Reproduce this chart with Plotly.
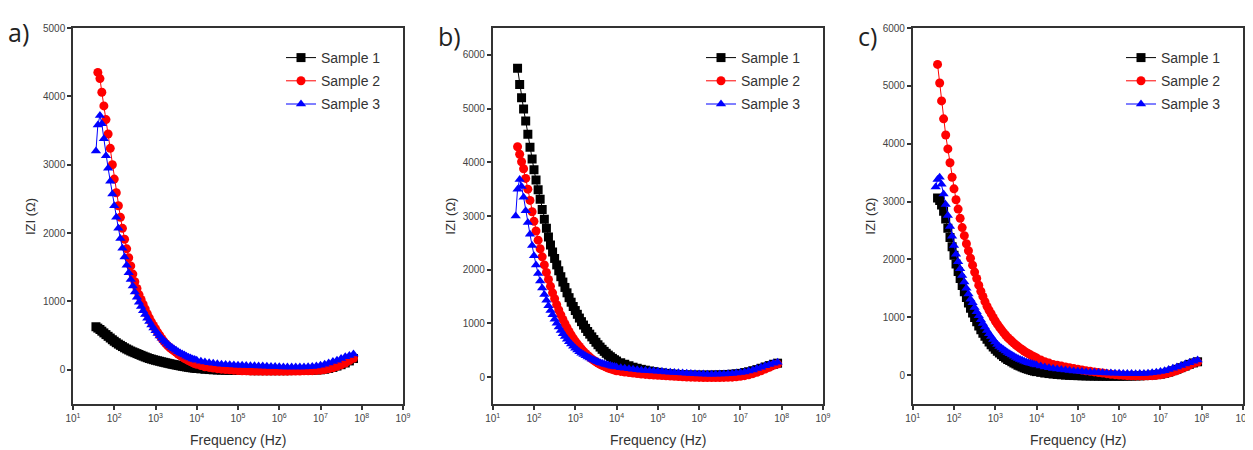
import plotly.graph_objects as go

# Measurement frequencies (Hz)
freq = [36, 40, 45, 50, 56, 63, 71, 80, 90, 100,
        112, 126, 141, 158, 178, 200, 224, 251, 282, 316,
        355, 398, 447, 501, 562, 631, 708, 794, 891, 1000,
        1122, 1259, 1413, 1585, 1778, 1995, 2239, 2512, 2818, 3162,
        3548, 3981, 4467, 5012, 5623, 6310, 7079, 7943, 8913, 10000,
        1.26e4, 1.58e4, 2.0e4, 2.51e4, 3.16e4, 3.98e4, 5.01e4, 6.31e4, 7.94e4, 1e5,
        1.26e5, 1.58e5, 2.0e5, 2.51e5, 3.16e5, 3.98e5, 5.01e5, 6.31e5, 7.94e5, 1e6,
        1.26e6, 1.58e6, 2.0e6, 2.51e6, 3.16e6, 3.98e6, 5.01e6, 6.31e6, 7.94e6, 1e7,
        1.26e7, 1.58e7, 2.0e7, 2.51e7, 3.16e7, 3.98e7, 5.01e7, 6.31e7, 7.94e7]

# Panel a) |Z| (ohm)
a_s1 = [630, 610, 590, 565, 540, 515, 490, 465, 440, 418,
        397, 376, 358, 340, 322, 305, 290, 275, 262, 250,
        237, 225, 212, 200, 188, 177, 166, 157, 148, 140,
        132, 125, 117, 110, 103, 96, 89, 82, 76, 70,
        64, 58, 52, 47, 42, 37, 32, 28, 24, 20,
        14, 8, 4, 0, -3, -5, -7, -8, -9, -10,
        -10, -10, -11, -12, -12, -12, -12, -12, -12, -12,
        -12, -12, -11, -10, -9, -8, -7, -5, -3, 0,
        8, 20, 35, 55, 75, 100, 130, 165, None]
a_s2 = [None, 4350, 4260, 4060, 3860, 3660, 3450, 3240, 3000, 2790,
        2590, 2400, 2230, 2070, 1910, 1770, 1640, 1520, 1400, 1290,
        1190, 1100, 1030, 960, 890, 820, 760, 700, 650, 600,
        550, 505, 460, 420, 383, 350, 323, 300, 277, 255,
        232, 210, 190, 170, 152, 135, 120, 105, 92, 80,
        62, 45, 35, 25, 17, 10, 5, 0, -5, -10,
        -13, -15, -17, -18, -19, -20, -20, -20, -20, -20,
        -20, -20, -19, -18, -17, -15, -14, -12, -9, -5,
        3, 15, 30, 50, 72, 100, 135, 170, None]
a_s3 = [3200, 3580, 3720, 3600, 3380, 3130, 2950, 2760, 2570, 2400,
        2230, 2070, 1920, 1780, 1650, 1530, 1420, 1320, 1225, 1140,
        1060, 990, 925, 865, 810, 755, 705, 655, 610, 570,
        532, 495, 462, 430, 402, 375, 350, 325, 305, 285,
        265, 245, 230, 215, 200, 185, 172, 160, 150, 140,
        127, 115, 105, 95, 88, 82, 78, 75, 71, 68,
        65, 62, 60, 58, 56, 55, 52, 50, 47, 45,
        43, 42, 41, 40, 41, 42, 45, 50, 57, 65,
        80, 100, 120, 140, 165, 190, 210, 232, None]

# Panel b)
b_s1 = [None, 5750, 5450, 5200, 4990, 4770, 4520, 4280, 4060, 3860,
        3670, 3490, 3310, 3120, 2940, 2770, 2610, 2460, 2330, 2210,
        2090, 1980, 1870, 1770, 1670, 1570, 1480, 1395, 1315, 1240,
        1170, 1100, 1033, 970, 908, 850, 800, 750, 700, 650,
        603, 560, 518, 480, 444, 410, 380, 350, 324, 300,
        268, 240, 212, 185, 165, 145, 130, 115, 102, 90,
        80, 70, 62, 55, 50, 45, 42, 40, 39, 38,
        38, 38, 39, 40, 42, 45, 50, 55, 62, 70,
        85, 100, 120, 140, 165, 190, 215, 240, 260]
b_s2 = [None, 4290, 4150, 4010, 3880, 3700, 3500, 3290, 3080, 2900,
        2720, 2550, 2390, 2240, 2090, 1950, 1820, 1690, 1570, 1460,
        1350, 1250, 1160, 1075, 995, 920, 850, 785, 725, 670,
        618, 570, 523, 480, 442, 405, 372, 340, 312, 285,
        262, 240, 222, 205, 187, 170, 157, 145, 132, 120,
        107, 95, 85, 75, 66, 58, 51, 45, 40, 35,
        30, 25, 20, 15, 10, 5, 2, 0, -3, -5,
        -7, -8, -8, -8, -7, -5, -3, 0, 6, 15,
        28, 45, 65, 90, 118, 150, 185, 220, 245]
b_s3 = [3000, 3500, 3680, 3550, 3350, 3100, 2880, 2660, 2450, 2260,
        2090, 1930, 1790, 1660, 1540, 1430, 1330, 1240, 1160, 1080,
        1005, 935, 870, 810, 755, 705, 660, 615, 575, 540,
        507, 475, 447, 420, 397, 375, 355, 335, 317, 300,
        285, 270, 257, 245, 235, 225, 215, 205, 197, 190,
        177, 165, 155, 145, 137, 130, 124, 118, 113, 108,
        103, 98, 93, 88, 83, 78, 73, 68, 64, 60,
        57, 55, 55, 55, 57, 60, 65, 70, 77, 85,
        98, 115, 135, 160, 185, 210, 235, 260, 275]

# Panel c)
c_s1 = [None, 3060, 3020, 2940, 2830, 2700, 2540, 2380, 2220, 2070,
        1920, 1790, 1670, 1550, 1440, 1340, 1245, 1155, 1075, 995,
        920, 850, 785, 725, 670, 620, 570, 525, 485, 445,
        412, 380, 350, 320, 295, 270, 250, 230, 210, 190,
        172, 155, 140, 125, 112, 100, 89, 78, 69, 60,
        47, 35, 26, 18, 11, 5, 0, -5, -8, -10,
        -13, -15, -17, -18, -19, -20, -20, -20, -20, -20,
        -19, -18, -17, -15, -13, -10, -5, 0, 7, 15,
        30, 50, 75, 100, 128, 155, 185, 210, 230]
c_s2 = [None, 5370, 5050, 4740, 4430, 4150, 3910, 3670, 3420, 3220,
        3030, 2870, 2710, 2550, 2410, 2270, 2150, 2020, 1900, 1780,
        1670, 1555, 1450, 1360, 1270, 1190, 1120, 1060, 995, 935,
        880, 830, 782, 735, 692, 650, 617, 585, 552, 520,
        492, 465, 440, 415, 392, 370, 350, 330, 312, 295,
        260, 230, 207, 185, 170, 155, 140, 125, 112, 100,
        87, 75, 65, 55, 45, 35, 25, 15, 7, 0,
        -5, -10, -13, -15, -15, -15, -13, -10, -3, 5,
        18, 35, 55, 80, 110, 140, 170, 205, 225]
c_s3 = [3250, 3380, 3420, 3300, 3130, 2950, 2760, 2570, 2400, 2240,
        2090, 1960, 1840, 1720, 1610, 1500, 1400, 1310, 1250, 1170,
        1095, 1025, 955, 890, 830, 770, 715, 665, 615, 570,
        530, 495, 467, 440, 415, 390, 367, 345, 325, 305,
        287, 270, 255, 240, 227, 215, 205, 195, 185, 175,
        157, 140, 127, 115, 105, 95, 86, 78, 71, 65,
        60, 55, 51, 47, 43, 40, 37, 35, 32, 30,
        28, 27, 26, 25, 26, 28, 33, 40, 50, 60,
        75, 95, 117, 140, 165, 190, 215, 240, 260]

series_names = ["Sample 1", "Sample 2", "Sample 3"]
colors = ["#000000", "#ff0000", "#0000ff"]
symbols = ["square", "circle", "triangle-up"]
panel_labels = ["a)", "b)", "c)"]
y_ranges = [[-500, 5000], [-500, 6500], [-500, 6000]]
y_ticks = [[0, 1000, 2000, 3000, 4000, 5000],
           [0, 1000, 2000, 3000, 4000, 5000, 6000],
           [0, 1000, 2000, 3000, 4000, 5000, 6000]]
x_tickvals = [1e1, 1e2, 1e3, 1e4, 1e5, 1e6, 1e7, 1e8, 1e9]
x_ticktext = ["10<sup>%d</sup>" % n for n in range(1, 10)]

panels = [[a_s1, a_s2, a_s3], [b_s1, b_s2, b_s3], [c_s1, c_s2, c_s3]]

# The page body adds an 8 px margin, so the figure is placed 8 px in.
OFF = 8
W, H = 1253 - OFF, 450 - OFF
x_px = [(73, 403), (492.7, 823), (912.7, 1243)]
y_px = (28, 404)
legend_x_px = [285, 705, 1125]
label_px = [(19, 32), (449, 36), (867, 36)]
FONT = "Liberation Sans"


def px_x(v):
    return (v - OFF) / W


def px_y(v):
    return 1 - (v - OFF) / H


fig = go.Figure()
for p, data in enumerate(panels):
    ax = "" if p == 0 else str(p + 1)
    leg = "legend" if p == 0 else "legend" + str(p + 1)
    for s in range(3):
        fig.add_trace(go.Scatter(
            x=freq, y=data[s], name=series_names[s],
            mode="lines+markers",
            line=dict(color=colors[s], width=1),
            marker=dict(symbol=symbols[s], size=9, color=colors[s],
                        line=dict(width=0)),
            xaxis="x" + ax, yaxis="y" + ax, legend=leg,
            legendgroup=f"{p}-{s}",
        ))

layout = dict(
    width=W, height=H, paper_bgcolor="white", plot_bgcolor="white",
    margin=dict(l=0, r=0, t=0, b=0, pad=0, autoexpand=False),
    font=dict(family=FONT, color="#333333"),
    annotations=[],
)
yd = [px_y(y_px[1]), px_y(y_px[0])]
for p in range(3):
    ax = "" if p == 0 else str(p + 1)
    x0, x1 = x_px[p]
    layout["xaxis" + ax] = dict(
        domain=[px_x(x0), px_x(x1)], type="log", range=[1, 9],
        tickvals=x_tickvals, ticktext=x_ticktext, automargin=False,
        showline=True, linecolor="#333333", linewidth=1.5, mirror=True,
        ticks="outside", ticklen=4, tickcolor="#333333", tickwidth=1.5,
        showgrid=False, zeroline=False,
        tickfont=dict(size=10, color="#444444"),
        anchor="y" + ax,
    )
    layout["yaxis" + ax] = dict(
        domain=yd, range=y_ranges[p], tickvals=y_ticks[p], automargin=False,
        showline=True, linecolor="#333333", linewidth=1.5, mirror=True,
        ticks="outside", ticklen=4, tickcolor="#333333", tickwidth=1.5,
        showgrid=False, zeroline=False,
        tickfont=dict(size=10, color="#444444"),
        anchor="x" + ax,
    )
    leg = "legend" if p == 0 else "legend" + str(p + 1)
    layout[leg] = dict(
        x=px_x(legend_x_px[p] - 4), y=px_y(42), xanchor="left", yanchor="top",
        bgcolor="rgba(0,0,0,0)", font=dict(size=14, color="#333333", family=FONT),
        tracegroupgap=2, itemwidth=30,
    )
    layout["annotations"].append(dict(
        text="IZI (Ω)", textangle=-90, x=px_x(x0 - 43), y=px_y(216),
        xanchor="center", yanchor="middle",
        xref="paper", yref="paper", showarrow=False,
        font=dict(size=13, color="#333333", family=FONT)))
    layout["annotations"].append(dict(
        text="Frequency (Hz)", x=px_x((x0 + x1) / 2), y=px_y(440),
        xanchor="center", yanchor="middle",
        xref="paper", yref="paper", showarrow=False,
        font=dict(size=14, color="#333333", family=FONT)))
    lx, ly = label_px[p]
    layout["annotations"].append(dict(
        text=panel_labels[p], x=px_x(lx), y=px_y(ly),
        xanchor="center", yanchor="middle",
        xref="paper", yref="paper", showarrow=False,
        font=dict(size=25, color="#222222", family="Open Sans")))

fig.update_layout(**layout)
fig.write_html("out.html")
